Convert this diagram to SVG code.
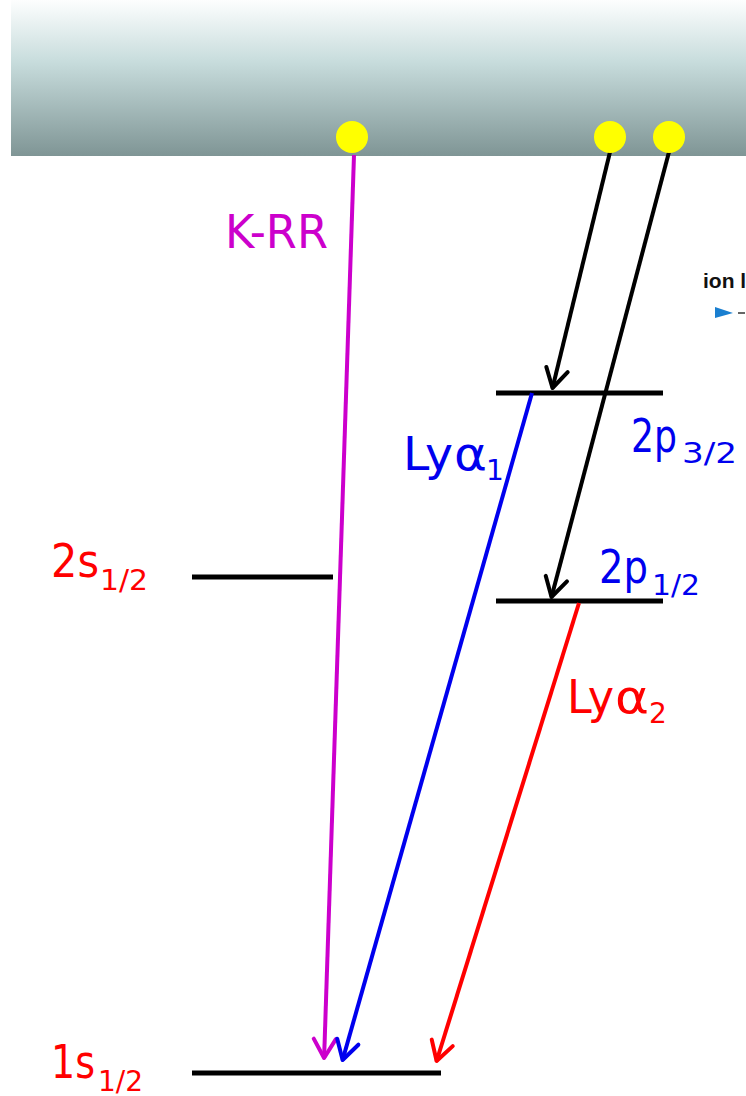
<svg xmlns="http://www.w3.org/2000/svg" width="746" height="1096" viewBox="0 0 746 1096">
<style>
.lvl{stroke:#000;stroke-width:5;fill:none}
.con{stroke-width:4;fill:none;stroke-linecap:butt}
.lab{font-family:"Comic Sans MS","DejaVu Sans",sans-serif;}
.big{font-size:46px}
.sub{font-size:28px}
.red{fill:#ff0000}
.blue{fill:#0000ee}
.mag{fill:#cc00cc}
.dot{fill:#ffff00}
</style>
<defs>
<linearGradient id="bandGrad" x1="0" y1="0" x2="0" y2="1">
<stop offset="0" stop-color="#fdfefe"/>
<stop offset="0.4" stop-color="#c7dcdc"/>
<stop offset="1" stop-color="#7f9595"/>
</linearGradient>
<marker id="ahK" markerUnits="userSpaceOnUse" viewBox="-24 -15 28 30" refX="0" refY="0" markerWidth="28" markerHeight="30" orient="auto" overflow="visible">
<path d="M-19,-11 L0,0 L-19,11" fill="none" stroke="#000" stroke-width="4" stroke-linejoin="round" stroke-linecap="round"/>
</marker>
<marker id="ahM" markerUnits="userSpaceOnUse" viewBox="-24 -15 28 30" refX="0" refY="0" markerWidth="28" markerHeight="30" orient="auto" overflow="visible">
<path d="M-19,-11 L0,0 L-19,11" fill="none" stroke="#cc00cc" stroke-width="4" stroke-linejoin="round" stroke-linecap="round"/>
</marker>
<marker id="ahB" markerUnits="userSpaceOnUse" viewBox="-24 -15 28 30" refX="0" refY="0" markerWidth="28" markerHeight="30" orient="auto" overflow="visible">
<path d="M-19,-11 L0,0 L-19,11" fill="none" stroke="#0000ee" stroke-width="4" stroke-linejoin="round" stroke-linecap="round"/>
</marker>
<marker id="ahR" markerUnits="userSpaceOnUse" viewBox="-24 -15 28 30" refX="0" refY="0" markerWidth="28" markerHeight="30" orient="auto" overflow="visible">
<path d="M-19,-11 L0,0 L-19,11" fill="none" stroke="#ff0000" stroke-width="4" stroke-linejoin="round" stroke-linecap="round"/>
</marker>
</defs>
<rect width="746" height="1096" fill="#ffffff"/>

<g id="continuum">
<rect x="11" y="0" width="735" height="156" fill="url(#bandGrad)"/>
</g>

<g id="ion-legend">
<text x="703" y="288" font-family="Liberation Sans, Arial, sans-serif" font-size="21" font-weight="bold" fill="#111">ion l</text>
<polygon points="715,307 733,313 715,318" fill="#1a7fd0"/>
<line x1="738" y1="313" x2="745" y2="313" stroke="#666" stroke-width="2"/>
</g>

<g id="level-2p32"><line class="lvl" x1="496" y1="393" x2="663" y2="393"/></g>
<g id="level-2p12"><line class="lvl" x1="496" y1="601" x2="663" y2="601"/></g>
<g id="level-2s12"><line class="lvl" x1="192" y1="577" x2="333" y2="577"/></g>
<g id="level-1s12"><line class="lvl" x1="192" y1="1073" x2="441" y2="1073"/></g>

<g id="connectors">
<line class="con" stroke="#cc00cc" x1="354" y1="155" x2="324.1" y2="1058" marker-end="url(#ahM)"/>
<line class="con" stroke="#000" x1="610" y1="152" x2="552.5" y2="388" marker-end="url(#ahK)"/>
<line class="con" stroke="#000" x1="669" y1="152" x2="551.5" y2="597" marker-end="url(#ahK)"/>
<line class="con" stroke="#0000ee" x1="532" y1="393" x2="342.6" y2="1060" marker-end="url(#ahB)"/>
<line class="con" stroke="#ff0000" x1="579" y1="603" x2="436.6" y2="1061" marker-end="url(#ahR)"/>
</g>

<g id="electrons">
<circle class="dot" cx="352" cy="137" r="16"/>
<circle class="dot" cx="610" cy="137" r="16"/>
<circle class="dot" cx="669" cy="137" r="16"/>
</g>

<g id="label-krr">
<text class="lab big mag" x="225" y="248" textLength="103" lengthAdjust="spacingAndGlyphs">K-RR</text>
</g>
<g id="label-lya1">
<text class="lab big blue"><tspan x="403" y="470" textLength="50" lengthAdjust="spacingAndGlyphs">Ly</tspan><tspan x="454" y="470" textLength="33" lengthAdjust="spacingAndGlyphs">α</tspan><tspan class="sub" x="486" y="480">1</tspan></text>
</g>
<g id="label-2p32">
<text class="lab big blue"><tspan x="631" y="452" textLength="46" lengthAdjust="spacingAndGlyphs">2p</tspan><tspan class="sub" x="682" y="463" textLength="55" lengthAdjust="spacingAndGlyphs">3/2</tspan></text>
</g>
<g id="label-2p12">
<text class="lab big blue"><tspan x="599" y="583" textLength="49" lengthAdjust="spacingAndGlyphs">2p</tspan><tspan class="sub" x="652" y="595" textLength="48" lengthAdjust="spacingAndGlyphs">1/2</tspan></text>
</g>
<g id="label-lya2">
<text class="lab big red"><tspan x="567" y="713" textLength="47" lengthAdjust="spacingAndGlyphs">Ly</tspan><tspan x="615" y="713" textLength="34" lengthAdjust="spacingAndGlyphs">α</tspan><tspan class="sub" x="649" y="723">2</tspan></text>
</g>
<g id="label-2s12">
<text class="lab big red"><tspan x="51" y="577" textLength="48" lengthAdjust="spacingAndGlyphs">2s</tspan><tspan class="sub" x="100" y="590" textLength="48" lengthAdjust="spacingAndGlyphs">1/2</tspan></text>
</g>
<g id="label-1s12">
<text class="lab big red"><tspan x="51" y="1078" textLength="44" lengthAdjust="spacingAndGlyphs">1s</tspan><tspan class="sub" x="98" y="1091" textLength="45" lengthAdjust="spacingAndGlyphs">1/2</tspan></text>
</g>
</svg>
